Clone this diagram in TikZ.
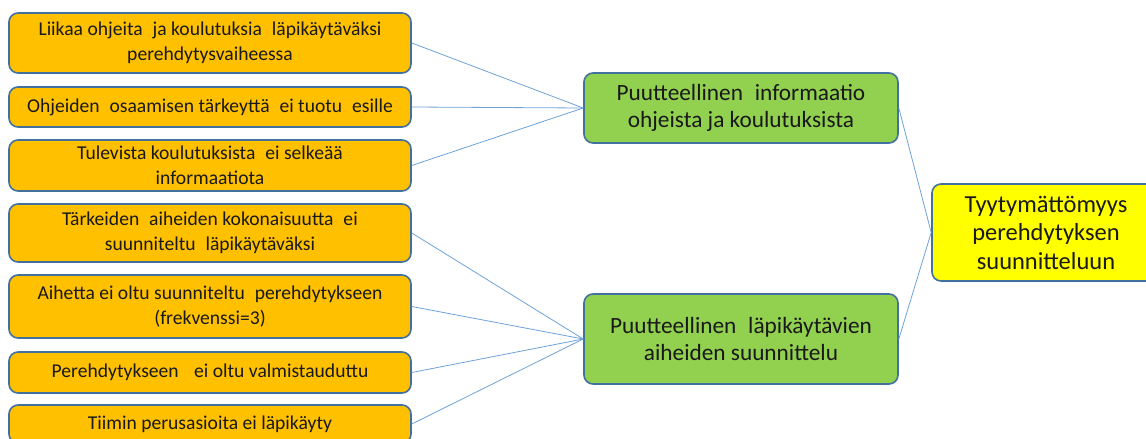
\documentclass[tikz,border=0pt]{standalone}
\usepackage{fontspec}
\setmainfont{Carlito}
\definecolor{boxorange}{HTML}{FFC000}
\definecolor{boxgreen}{HTML}{92D050}
\definecolor{boxyellow}{HTML}{FFFF00}
\definecolor{boxedge}{HTML}{41719C}
\definecolor{linkblue}{HTML}{6FA3D8}
\newcommand{\dsp}{\hspace{0.28em}}
\tikzset{
  base/.style={draw=boxedge, line width=1.6pt, rounded corners=9pt, align=center, inner sep=2pt, text=black!90},
  causebox/.style={base, fill=boxorange, minimum width=402pt, font=\fontsize{19.6}{25}\selectfont},
  midbox/.style={base, fill=boxgreen, minimum width=314pt, font=\fontsize{23.3}{27}\selectfont},
  topbox/.style={base, fill=boxyellow, minimum width=228pt, font=\fontsize{24.5}{28.5}\selectfont},
  link/.style={draw=linkblue, line width=0.8pt}
}
\begin{document}
\begin{tikzpicture}[x=1pt,y=-1pt]
\useasboundingbox (0,0) rectangle (1146,439);
\clip (0,0) rectangle (1146,439);
\fill[white] (0,0) rectangle (1146,439);
\node[causebox, minimum height=60pt] (c1) at (210,43) {Liikaa ohjeita\dsp{} ja koulutuksia\dsp{} läpikäytäväksi\\perehdytysvaiheessa};
\node[causebox, minimum height=40pt] (c2) at (210,107) {Ohjeiden\dsp{} osaamisen tärkeyttä\dsp{} ei tuotu\dsp{} esille};
\node[causebox, minimum height=51pt] (c3) at (210,165.5) {Tulevista koulutuksista\dsp{} ei selkeää\\informaatiota};
\node[causebox, minimum height=58pt] (c4) at (210,233) {Tärkeiden\dsp{} aiheiden kokonaisuutta\dsp{} ei\\suunniteltu\dsp{} läpikäytäväksi};
\node[causebox, minimum height=63pt] (c5) at (210,306.5) {Aihetta ei oltu suunniteltu\dsp{} perehdytykseen\\(frekvenssi=3)};
\node[causebox, minimum height=41pt] (c6) at (210,372.5) {Perehdytykseen\dsp\dsp{} ei oltu valmistauduttu};
\node[causebox, minimum height=38pt] (c7) at (210,424) {Tiimin perusasioita ei läpikäyty};
\node[midbox, minimum height=70pt] (m1) at (741,108) {Puutteellinen\dsp{} informaatio\\ohjeista ja koulutuksista};
\node[midbox, minimum height=90pt] (m2) at (741,339) {Puutteellinen\dsp{} läpikäytävien\\aiheiden suunnittelu};
\node[topbox, minimum height=97pt] (t) at (1046,232.5) {Tyytymättömyys\\perehdytyksen\\suunnitteluun};
\foreach \c in {c1,c2,c3} \draw[link] (\c.east) -- (m1.west);
\foreach \c in {c4,c5,c6,c7} \draw[link] (\c.east) -- (m2.west);
\draw[link] (m1.east) -- (t.west);
\draw[link] (m2.east) -- (t.west);
\end{tikzpicture}
\end{document}
